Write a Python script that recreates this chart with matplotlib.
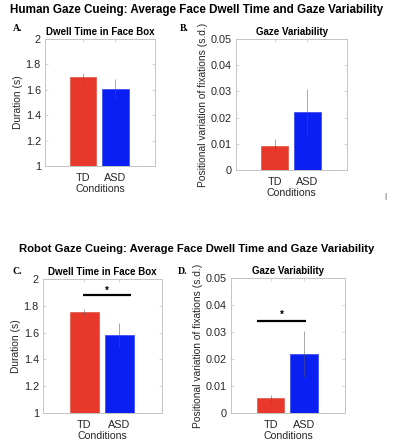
import numpy as np
import matplotlib
matplotlib.use("Agg")
import matplotlib.pyplot as plt

# data
groups = ["TD", "ASD"]
human_dwell = [1.70, 1.61]
human_dwell_err = [0.035, 0.075]
human_var = [0.0092, 0.0221]
human_var_err = [0.0025, 0.009]
robot_dwell = [1.754, 1.58]
robot_dwell_err = [0.022, 0.09]
robot_var = [0.0055, 0.0219]
robot_var_err = [0.0013, 0.0085]
robot_dwell_sig = 1.88
robot_var_sig = 0.034

plt.rcParams['font.family'] = ['Liberation Sans', 'DejaVu Sans']

RED = '#e8372b'
BLUE = '#0a1ff2'
TXT = '#262626'
FRAME = '#c4c4c4'


def bar_panel(ax, vals, errs, ylim, yticks, yticklabels, ylabel, title):
    x = np.arange(1, len(groups) + 1)
    ax.bar(x, vals, width=0.82, color=[RED, BLUE], edgecolor=['#e06050', '#4050f0'],
           linewidth=0.6, zorder=2)
    ax.errorbar(x, vals, yerr=errs, fmt='none', ecolor='#555555', elinewidth=0.6,
                alpha=0.6, capsize=0, zorder=3)
    ax.set_xlim(-0.18, 3.22)
    ax.set_ylim(*ylim)
    ax.set_yticks(yticks)
    ax.set_yticklabels(yticklabels)
    ax.set_xticks(x)
    ax.set_xticklabels(groups)
    ax.set_xlabel('Conditions', fontsize=7.6, color=TXT, labelpad=1)
    ax.set_ylabel(ylabel, fontsize=7.4, color=TXT, labelpad=2)
    ax.set_title(title, fontsize=7, fontweight='bold', pad=3)
    ax.tick_params(direction='in', length=2, width=0.5, color=FRAME,
                   labelsize=7.8, labelcolor=TXT, top=True, right=True, pad=3)
    ax.tick_params(axis='x', pad=5)
    for s in ax.spines.values():
        s.set_color(FRAME)
        s.set_linewidth(0.7)


def sig_bar(ax, x0, x1, y, ystar):
    ax.plot([x0, x1], [y, y], color='black', lw=1.6, solid_capstyle='butt', zorder=4)
    ax.text((x0 + x1) / 2, ystar, '*', ha='center', va='center', fontsize=7,
            fontweight='bold')


fig = plt.figure(figsize=(3.93, 4.40), dpi=100)

axA = fig.add_axes([0.1145, 0.6227, 0.2795, 0.2886])
axB = fig.add_axes([0.6005, 0.6136, 0.2825, 0.2977])
axC = fig.add_axes([0.1094, 0.0614, 0.3026, 0.3046])
axD = fig.add_axes([0.5878, 0.0614, 0.2902, 0.3068])

dwell_ticks = [1, 1.2, 1.4, 1.6, 1.8, 2]
dwell_labels = ['1', '1.2', '1.4', '1.6', '1.8', '2']
var_ticks = [0, 0.01, 0.02, 0.03, 0.04, 0.05]
var_labels = ['0', '0.01', '0.02', '0.03', '0.04', '0.05']
var_ylabel = 'Positional variation of fixations (s.d.)'

bar_panel(axA, human_dwell, human_dwell_err, (1, 2), dwell_ticks, dwell_labels,
          'Duration (s)', 'Dwell Time in Face Box')
bar_panel(axB, human_var, human_var_err, (0, 0.05), var_ticks, var_labels,
          var_ylabel, 'Gaze Variability')
bar_panel(axC, robot_dwell, robot_dwell_err, (1, 2), dwell_ticks, dwell_labels,
          'Duration (s)', 'Dwell Time in Face Box')
bar_panel(axD, robot_var, robot_var_err, (0, 0.05), var_ticks, var_labels,
          var_ylabel, 'Gaze Variability')

sig_bar(axC, 0.95, 2.35, robot_dwell_sig, 1.915)
sig_bar(axD, 0.6, 2.05, robot_var_sig, 0.0365)

fig.text(0.5, 0.977, 'Human Gaze Cueing: Average Face Dwell Time and Gaze Variability',
         ha='center', va='center', fontsize=8.4, fontweight='bold')
fig.text(0.5, 0.435, 'Robot Gaze Cueing: Average Face Dwell Time and Gaze Variability',
         ha='center', va='center', fontsize=8.1, fontweight='bold')

for lbl, x, y in [('A.', 0.033, 0.935), ('B.', 0.458, 0.935),
                  ('C.', 0.033, 0.384), ('D.', 0.453, 0.384)]:
    fig.text(x, y, lbl, family=['Liberation Serif', 'DejaVu Serif'],
             fontsize=7, fontweight='bold', ha='left', va='center')

fig.text(0.98, 0.553, '|', fontsize=6, color='#444444', ha='center', va='center')

fig.savefig('out.png', dpi=100)
